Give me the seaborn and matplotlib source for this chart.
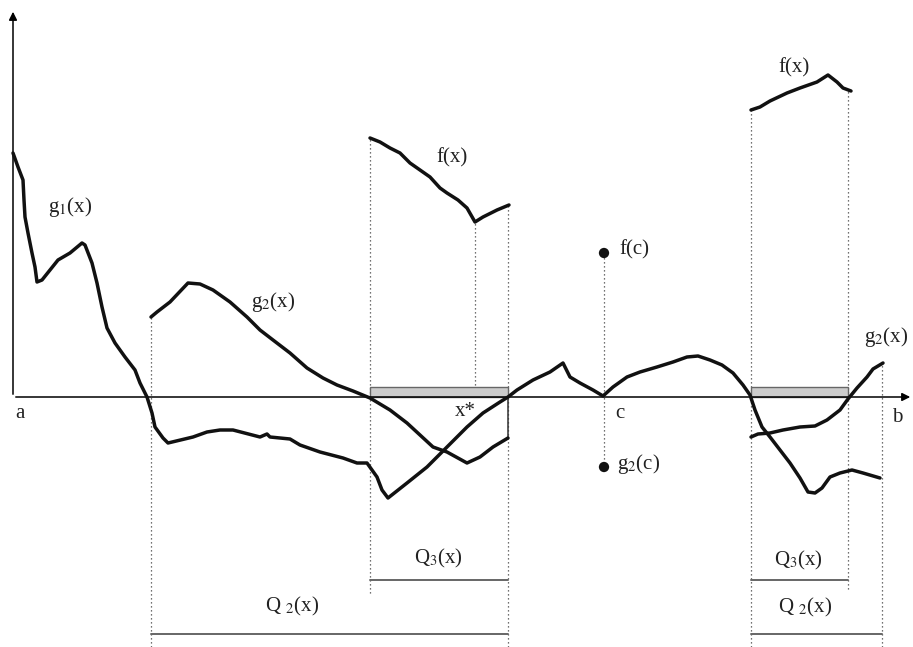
import numpy as np
import pandas as pd
import matplotlib
matplotlib.use("Agg")
import matplotlib.pyplot as plt
import seaborn as sns

# curve: x along the axis, y = height above the axis
g1_x = [13, 18, 23, 24, 25, 28, 32, 35, 37, 42, 50, 58, 70, 82, 85, 92, 97, 102, 107, 115, 125,
        135, 140, 147, 152, 155, 163, 168, 193, 207, 220, 233, 260, 267, 270, 290, 300, 320,
        343, 357, 367, 377, 382, 388, 407, 427, 447, 467, 483, 500, 508, 517, 533, 550, 563,
        570, 580, 593, 603, 613, 627, 640, 657, 673, 687, 698, 710, 722, 733, 743, 750, 755,
        762, 770, 780, 790, 800, 808, 815, 822, 830, 840, 852, 863, 880]
g1_y = [244, 230, 217, 197, 180, 164, 144, 130, 115, 117, 127, 137, 144, 154, 152, 134, 114, 90,
        69, 54, 40, 27, 14, 0, -16, -30, -41, -46, -40, -35, -33, -33, -40, -37, -40, -42, -48,
        -55, -61, -66, -66, -80, -93, -101, -86, -70, -50, -30, -16, -5, 0, 7, 17, 25, 34, 20,
        14, 7, 1, 10, 20, 25, 30, 35, 40, 41, 37, 32, 24, 12, 2, -13, -30, -40, -53, -66, -81,
        -95, -96, -91, -80, -76, -73, -76, -81]

g2_mid_x = [151, 157, 170, 188, 200, 213, 230, 247, 260, 273, 290, 307, 323, 337, 353, 370,
            390, 407, 420, 433, 447, 467, 480, 493, 508]
g2_mid_y = [80, 85, 95, 114, 113, 107, 95, 80, 67, 57, 44, 29, 19, 12, 6, -1, -13, -26, -38,
            -50, -55, -66, -60, -50, -41]

g2_right_x = [751, 758, 770, 783, 800, 815, 827, 840, 848, 857, 867, 873, 883]
g2_right_y = [-40, -37, -36, -33, -30, -29, -23, -13, -2, 9, 20, 28, 34]

f_mid_x = [370, 380, 390, 400, 410, 420, 430, 440, 447, 458, 467, 475, 483, 497, 509]
f_mid_y = [259, 255, 249, 244, 234, 227, 220, 209, 204, 197, 189, 175, 180, 187, 192]

f_right_x = [751, 760, 770, 787, 800, 817, 828, 837, 843, 851]
f_right_y = [287, 290, 296, 304, 309, 315, 322, 315, 309, 306]

point_x = [604, 604]
point_y = [144, -70]

# shaded sets on the axis and the Q bars
boxes = [(370, 508), (751, 848)]
box_h = 10
q3_bars = [(370, 508), (751, 848)]
q2_bars = [(151, 508), (751, 882)]
q3_level = -183
q2_level = -237

# dotted guide lines: x, top, bottom
guides = [(151, 80, -250), (370, 259, -196), (475, 175, 0), (508, 192, -250),
          (604, 144, -70), (751, 287, -250), (848, 306, -192), (882, 34, -250)]

sns.set_style("white")
plt.rcParams['font.family'] = ['Liberation Serif', 'DejaVu Serif']
plt.rcParams['mathtext.fontset'] = 'stix'

fig = plt.figure(figsize=(9.13, 6.47), dpi=100)
ax = fig.add_axes([0, 0, 1, 1])
ax.set_xlim(0, 913)
ax.set_ylim(-250, 397)
ax.axis('off')

for gx, top, bot in guides:
    ax.plot([gx, gx], [bot, top], color='#444444', lw=0.9, ls=(0, (1, 2.2)), zorder=1)

for x0, x1 in boxes:
    ax.add_patch(plt.Rectangle((x0, 0), x1 - x0, box_h, facecolor='#cccccc',
                               edgecolor='#666666', lw=1.0, zorder=2))

for x0, x1 in q3_bars:
    ax.plot([x0, x1], [q3_level, q3_level], color='#666666', lw=1.4)
for x0, x1 in q2_bars:
    ax.plot([x0, x1], [q2_level, q2_level], color='#666666', lw=1.4)

# axes with arrows
ax.annotate('', xy=(913, 0), xytext=(13, 0),
            arrowprops=dict(arrowstyle='-|>', color='black', lw=1.1, mutation_scale=12))
ax.annotate('', xy=(13, 388), xytext=(13, 0),
            arrowprops=dict(arrowstyle='-|>', color='black', lw=1.1, mutation_scale=12))

# thin drop at the end of Q3
ax.plot([508, 508], [0, -41], color='#333333', lw=1.1)

curves = [(g1_x, g1_y), (g2_mid_x, g2_mid_y), (g2_right_x, g2_right_y),
          (f_mid_x, f_mid_y), (f_right_x, f_right_y)]
for cx, cy in curves:
    df = pd.DataFrame({'x': cx, 'y': cy})
    sns.lineplot(data=df, x='x', y='y', sort=False, color='#111111', lw=2.5, ax=ax, zorder=3)

sns.scatterplot(x=point_x, y=point_y, color='#111111', s=55, ax=ax, zorder=4, edgecolor='none')

fs = 15
labels = [
    (70, 190, r'g$_1$(x)'), (273, 95, r'g$_2$(x)'), (886, 60, r'g$_2$(x)'),
    (452, 239, 'f(x)'), (794, 329, 'f(x)'), (634, 147, 'f(c)'), (639, -67, r'g$_2$(c)'),
    (620, -16, 'c'), (465, -15, 'x*'), (20, -16, 'a'), (897, -20, 'b'),
    (438, -161, r'Q$_3$(x)'), (292, -209, r'Q $_2$(x)'),
    (798, -163, r'Q$_3$(x)'), (805, -210, r'Q $_2$(x)'),
]
for lx, ly, txt in labels:
    ax.text(lx, ly, txt, fontsize=fs, ha='center', va='center', color='#222222')

ax.set_xlabel('')
ax.set_ylabel('')
fig.savefig('out.png', dpi=100)
